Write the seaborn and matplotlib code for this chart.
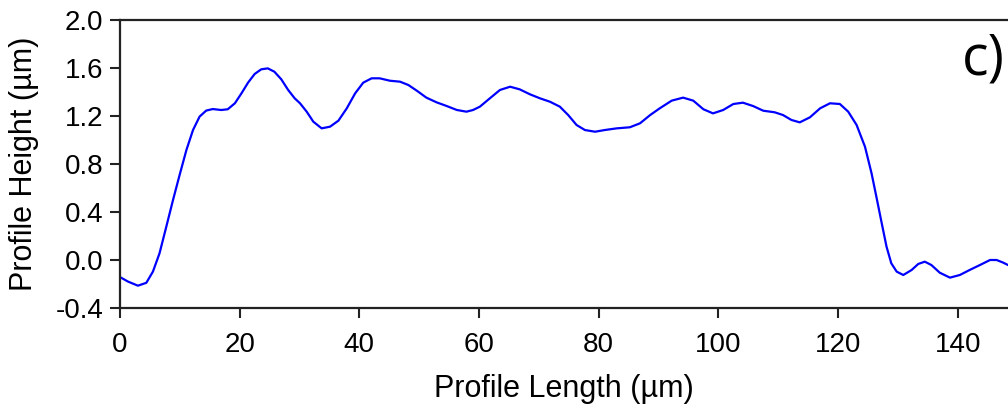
import numpy as np
import pandas as pd
import seaborn as sns
import matplotlib
matplotlib.use("Agg")
import matplotlib.pyplot as plt

# Profile data
length_um = [0.1, 1.34, 3.0, 4.4, 5.5, 6.6, 7.75, 8.86, 9.97, 11.1, 12.2, 13.3, 14.4, 15.5,
             16.9, 18.0, 19.2, 20.3, 21.4, 22.5, 23.6, 24.7, 25.8, 26.95, 28.1, 29.2, 30.08,
             31.2, 32.3, 33.7, 35.1, 36.5, 37.9, 39.3, 40.65, 42.05, 43.4, 45.1, 46.8, 48.2,
             49.6, 51.2, 52.9, 54.6, 56.3, 57.9, 59.0, 60.15, 61.8, 63.5, 65.2, 66.8, 68.5,
             70.2, 71.85, 73.5, 74.9, 76.3, 77.7, 79.4, 81.0, 83.0, 85.2, 86.9, 88.6, 90.2,
             92.2, 94.1, 95.8, 97.5, 99.1, 100.8, 102.5, 104.1, 105.8, 107.5, 109.4, 110.8,
             112.2, 113.6, 115.3, 117.0, 118.65, 120.3, 121.7, 123.1, 124.5, 125.6, 126.4,
             127.3, 128.1, 128.9, 129.8, 130.9, 132.3, 133.4, 134.5, 135.6, 137.0, 138.7,
             140.35, 142.0, 143.7, 145.4, 146.5, 147.6, 148.4]
height_um = [-0.145, -0.18, -0.214, -0.19, -0.097, 0.055, 0.28, 0.50, 0.71, 0.917, 1.083,
             1.195, 1.245, 1.258, 1.25, 1.256, 1.306, 1.389, 1.478, 1.55, 1.589, 1.597, 1.569,
             1.506, 1.417, 1.347, 1.306, 1.236, 1.153, 1.097, 1.111, 1.161, 1.264, 1.389,
             1.478, 1.514, 1.514, 1.494, 1.486, 1.458, 1.411, 1.353, 1.314, 1.283, 1.25,
             1.236, 1.25, 1.278, 1.347, 1.417, 1.444, 1.422, 1.381, 1.347, 1.319, 1.278,
             1.208, 1.125, 1.083, 1.069, 1.083, 1.097, 1.106, 1.139, 1.208, 1.264, 1.328,
             1.353, 1.328, 1.256, 1.222, 1.25, 1.30, 1.311, 1.283, 1.244, 1.231, 1.208,
             1.167, 1.147, 1.189, 1.264, 1.306, 1.30, 1.236, 1.125, 0.944, 0.722, 0.528,
             0.306, 0.111, -0.028, -0.097, -0.125, -0.083, -0.033, -0.014, -0.042, -0.106,
             -0.147, -0.125, -0.083, -0.042, 0.0, 0.0, -0.022, -0.042]

x_ticks = [0, 20, 40, 60, 80, 100, 120, 140]
y_ticks = [-0.4, 0.0, 0.4, 0.8, 1.2, 1.6, 2.0]
y_tick_labels = ["-0.4", "0.0", "0.4", "0.8", "1.2", "1.6", "2.0"]

sns.set_style("ticks")
plt.rcParams['font.family'] = ['Liberation Sans', 'DejaVu Sans']
plt.rcParams['axes.unicode_minus'] = False
plt.rcParams['text.color'] = 'black'
plt.rcParams['axes.labelcolor'] = 'black'

df = pd.DataFrame({"x": length_um, "y": height_um})

fig = plt.figure(figsize=(10.08, 4.16), dpi=100)
ax = fig.add_axes([120 / 1008, 108 / 416, 1 - 120 / 1008, (308 - 20) / 416])
sns.lineplot(data=df, x="x", y="y", ax=ax, color="#0000ff", linewidth=1.6, sort=False)

ax.set_xlim(0, 148.4)
ax.set_ylim(-0.4, 2.0)
ax.set_xticks(x_ticks)
ax.set_yticks(y_ticks)
ax.set_yticklabels(y_tick_labels)
ax.tick_params(axis="both", labelsize=20, length=7, width=1.5, color="#222222",
               labelcolor="black", direction="out")
ax.tick_params(axis="x", pad=10)
ax.tick_params(axis="y", pad=5)
for side in ["left", "bottom", "top"]:
    ax.spines[side].set_linewidth(1.6)
    ax.spines[side].set_color("#222222")
ax.spines["right"].set_visible(False)

ax.set_xlabel("Profile Length (µm)", fontsize=22, labelpad=12)
ax.set_ylabel("Profile Height (µm)", fontsize=22, labelpad=12)

ax.text(0.996, 0.86, "c)", transform=ax.transAxes, ha="right", va="center",
        fontsize=40, family=["Open Sans", "DejaVu Sans"])

fig.savefig("out.png", dpi=100)
